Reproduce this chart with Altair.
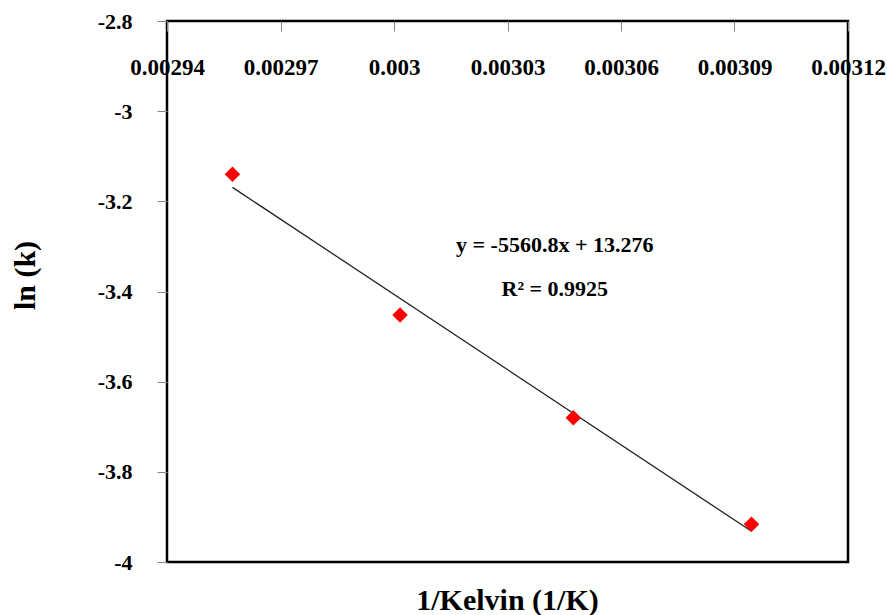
import altair as alt
import pandas as pd

# Data
inv_T = [0.0029573, 0.0030016, 0.0030474, 0.0030945]
ln_k = [-3.140, -3.452, -3.680, -3.916]

slope = -5560.8
intercept = 13.276
eq_labels = ["y = -5560.8x + 13.276", "R² = 0.9925"]
eq_x = [0.0030425, 0.0030425]
eq_y = [-3.296, -3.395]

x_ticks = [0.00294, 0.00297, 0.00300, 0.00303, 0.00306, 0.00309, 0.00312]
y_ticks = [-4.0, -3.8, -3.6, -3.4, -3.2, -3.0, -2.8]

pts = pd.DataFrame({"x": inv_T, "y": ln_k})
tx = [min(inv_T), max(inv_T)]
trend = pd.DataFrame({"x": tx, "y": [slope * v + intercept for v in tx]})
ann = pd.DataFrame({"x": eq_x, "y": eq_y, "t": eq_labels})

FONT = "Liberation Serif"

xscale = alt.Scale(domain=[0.00294, 0.00312], nice=False, zero=False)
yscale = alt.Scale(domain=[-4.0, -2.8], nice=False, zero=False)

xaxis = alt.Axis(
    orient="top", values=x_ticks, title=None, grid=False, domain=False,
    offset=-10, tickSize=10, tickColor="#888888", tickWidth=1,
    labelPadding=-46.5, labelBaseline="middle",
    labelFont=FONT, labelFontWeight="bold", labelFontSize=23, labelColor="black",
    labelFlush=False, labelOverlap=False, labelBound=False,
    labelExpr="toString(round(datum.value*100000)/100000)",
)
yaxis = alt.Axis(
    orient="left", values=y_ticks, title="ln (k)", grid=False, domain=False,
    tickSize=10, tickColor="#888888", tickWidth=1,
    labelPadding=25, labelFont=FONT, labelFontWeight="bold", labelFontSize=22,
    labelColor="black", labelOverlap=False, labelFlush=False,
    labelExpr="toString(round(datum.value*10)/10)",
    titleFont=FONT, titleFontWeight="bold", titleFontSize=30, titleColor="black",
    titleX=-142, titleY=254, titleBaseline="middle",
)

points = alt.Chart(pts).mark_point(
    shape="diamond", filled=True, color="#FF0000", size=240, opacity=1
).encode(
    x=alt.X("x:Q", scale=xscale, axis=xaxis),
    y=alt.Y("y:Q", scale=yscale, axis=yaxis),
)

line = alt.Chart(trend).mark_line(color="#222222", strokeWidth=1.3).encode(
    x=alt.X("x:Q", scale=xscale),
    y=alt.Y("y:Q", scale=yscale),
)

text = alt.Chart(ann).mark_text(
    font=FONT, fontWeight="bold", fontSize=22, color="black", align="center", baseline="middle"
).encode(
    x=alt.X("x:Q", scale=xscale),
    y=alt.Y("y:Q", scale=yscale),
    text="t:N",
)

chart = alt.layer(line, points, text).properties(
    width=681, height=541,
    autosize=alt.AutoSizeParams(type="none"),
    padding={"left": 167, "top": 21, "right": 39, "bottom": 53},
    title=alt.TitleParams(
        "1/Kelvin (1/K)", orient="bottom", anchor="middle", offset=28,
        baseline="middle", font=FONT, fontWeight="bold", fontSize=30, color="black",
    ),
).configure(background="white").configure_view(stroke="black", strokeWidth=2.5)

chart.save("out.html", embed_options={"renderer": "svg", "actions": False})
